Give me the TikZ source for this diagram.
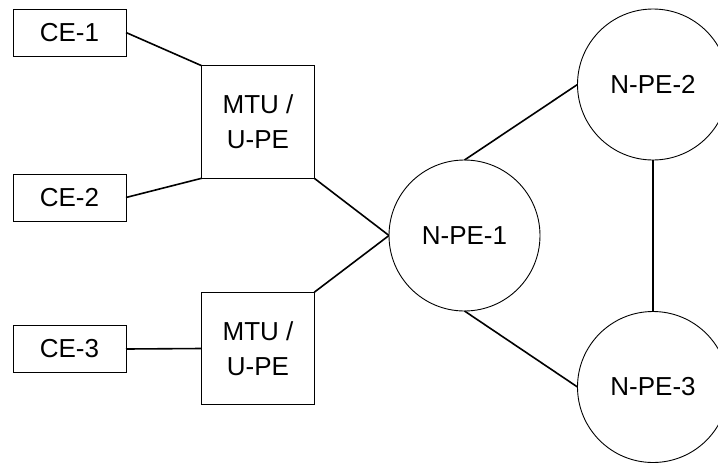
\documentclass[tikz,border=0pt]{standalone}
\usepackage{fontspec}
\setmainfont{Liberation Sans}
\begin{document}
\begin{tikzpicture}[x=1pt,y=-1pt,
  every node/.style={font=\fontsize{26}{35}\selectfont, inner sep=0pt, outer sep=0pt, align=center},
  cebox/.style={draw, line width=1pt, minimum width=113pt, minimum height=47pt},
  mtubox/.style={draw, line width=1pt, minimum width=112.5pt, minimum height=112.5pt},
  pecircle/.style={draw, circle, line width=0.9pt, minimum size=151pt},
  link/.style={line width=1.6pt}]
  \useasboundingbox (0,0) rectangle (718,464);
  \clip (0,0) rectangle (718,464);
  % customer edge devices
  \node[cebox] (ce1) at (69.5,32.5) {CE-1};
  \node[cebox] (ce2) at (69.5,197.5) {CE-2};
  \node[cebox] (ce3) at (69.5,349) {CE-3};
  % multi-tenant units
  \node[mtubox] (mtu1) at (258,122) {MTU /\\U-PE};
  \node[mtubox] (mtu2) at (258,348.5) {MTU /\\U-PE};
  % network-facing PEs
  \node[pecircle] (npe1) at (464.5,235.5) {N-PE-1};
  \node[pecircle] (npe2) at (653,84.5) {N-PE-2};
  \node[pecircle] (npe3) at (653,387) {N-PE-3};
  % links
  \draw[link] (ce1.east) -- (mtu1.north west);
  \draw[link] (ce2.east) -- (mtu1.south west);
  \draw[link] (ce3.east) -- (mtu2.west);
  \draw[link] (mtu1.south east) -- (npe1.west);
  \draw[link] (mtu2.north east) -- (npe1.west);
  \draw[link] (npe1.north) -- (npe2.west);
  \draw[link] (npe1.south) -- (npe3.west);
  \draw[link] (npe2.south) -- (npe3.north);
\end{tikzpicture}
\end{document}
